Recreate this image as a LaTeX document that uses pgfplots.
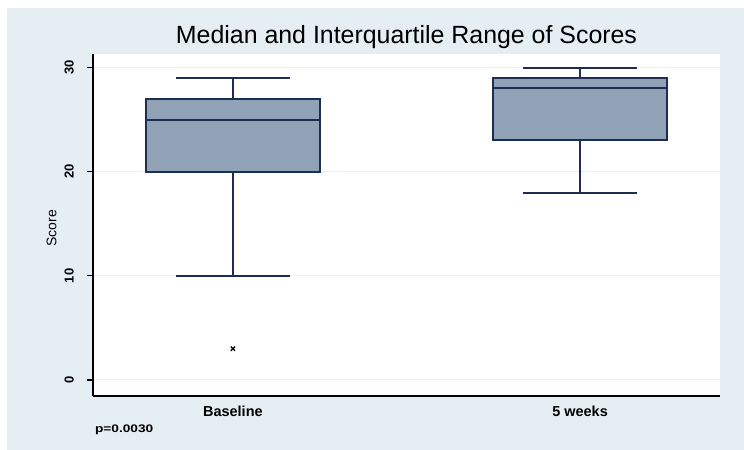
\documentclass[border=0pt]{standalone}
\usepackage{fontspec}
\setmainfont{Liberation Sans}
\usepackage{graphicx}
\usepackage{pgfplots}
\pgfplotsset{compat=1.18}
\usepgfplotslibrary{statistics}
\definecolor{bgblue}{HTML}{E4EEF3}
\definecolor{boxfill}{HTML}{8FA2B6}
\definecolor{navy}{HTML}{1F2D52}
\definecolor{gridc}{HTML}{E9EFF3}
\begin{document}
\begin{tikzpicture}
\useasboundingbox (0bp,0bp) rectangle (744bp,450bp);
\fill[white] (0bp,0bp) rectangle (744bp,450bp);
\fill[bgblue] (7bp,0bp) rectangle (744bp,442bp);
\fill[white] (93bp,54bp) rectangle (720bp,396bp);
\begin{axis}[
  at={(93bp,54bp)}, anchor=south west,
  scale only axis, width=627bp, height=342bp,
  xmin=0.597, xmax=2.403, ymin=-1.54, ymax=31.3,
  axis x line*=bottom, axis y line*=left,
  axis line style={-, black, line width=1.4bp},
  xtick={1,2}, xticklabels={Baseline,5 weeks},
  xtick style={draw=none},
  ytick={0,10,20,30},
  ytick style={black, line width=1.2bp},
  tick align=outside, major tick length=6bp,
  ymajorgrids, grid style={gridc, line width=1bp},
  tick label style={/pgf/number format/assume math mode=true},
  every y tick label/.append style={rotate=90, anchor=south, font=\fontsize{13}{14}\selectfont\bfseries, inner sep=0pt, yshift=13bp},
  xticklabel style={font=\fontsize{14.5}{16}\selectfont\bfseries, inner sep=4bp},
  ylabel={Score},
  ylabel style={font=\fontsize{14}{16}\selectfont, at={(axis description cs:-0.066,0.49)}, anchor=center, rotate=0},
  title={Median and Interquartile Range of Scores},
  title style={font=\fontsize{25}{27}\selectfont, at={(axis description cs:0.5,1.012)}, anchor=base},
  clip=false,
  boxplot/draw direction=y,
  boxplot/every box/.style={draw=navy, fill=boxfill, line width=2bp},
  boxplot/every whisker/.style={draw=navy, line width=2bp},
  boxplot/every median/.style={draw=navy, line width=2bp},
]
\addplot+[boxplot prepared={median=25, upper quartile=27, lower quartile=20,
  upper whisker=29, lower whisker=10, draw position=1,
  box extend=0.5, whisker extend=0.33},
  draw=navy, solid,
  mark=x, mark size=3bp, mark options={black, fill=black, line width=1.3bp}]
  table[row sep=\\, y index=0] {3\\};
\addplot+[boxplot prepared={median=28, upper quartile=29, lower quartile=23,
  upper whisker=30, lower whisker=18, draw position=2,
  box extend=0.5, whisker extend=0.33},
  draw=navy, solid, mark=none]
  coordinates {};
\node[anchor=base west, font=\fontsize{11}{12}\selectfont\bfseries, inner sep=0]
  at (axis description cs:0.003,-0.108) {\scalebox{1.25}[1]{p=0.0030}};
\end{axis}
\end{tikzpicture}
\end{document}
